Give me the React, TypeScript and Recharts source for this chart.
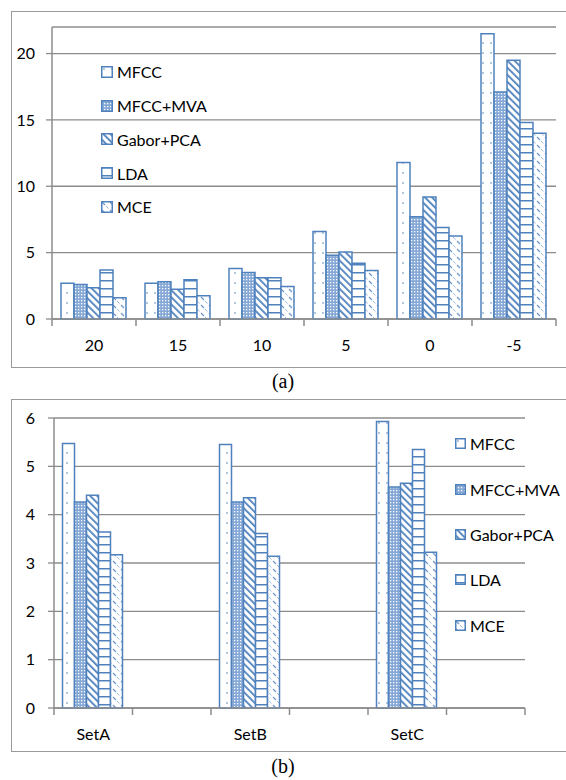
import { BarChart, Bar, XAxis, YAxis, CartesianGrid, Legend } from 'recharts';

// (a) error rate by SNR
const snrLabels = ['20', '15', '10', '5', '0', '-5'];
const snrMfcc = [2.7, 2.7, 3.8, 6.6, 11.8, 21.5];
const snrMva = [2.6, 2.8, 3.5, 4.8, 7.7, 17.1];
const snrGabor = [2.35, 2.25, 3.1, 5.05, 9.2, 19.5];
const snrLda = [3.7, 2.95, 3.1, 4.2, 6.9, 14.8];
const snrMce = [1.6, 1.75, 2.45, 3.65, 6.25, 14.0];
const snrTicks = [0, 5, 10, 15, 20];

// (b) error rate by test set (blank slots keep the Excel spacing)
const setLabels = ['SetA', '', 'SetB', '', 'SetC', ''];
const setMfcc = [5.47, null, 5.45, null, 5.93, null];
const setMva = [4.26, null, 4.26, null, 4.57, null];
const setGabor = [4.4, null, 4.35, null, 4.65, null];
const setLda = [3.64, null, 3.61, null, 5.35, null];
const setMce = [3.17, null, 3.14, null, 3.22, null];
const setTicks = [0, 1, 2, 3, 4, 5, 6];

const seriesKeys = ['mfcc', 'mva', 'gabor', 'lda', 'mce'];
const seriesNames = ['MFCC', 'MFCC+MVA', 'Gabor+PCA', 'LDA', 'MCE'];

const BLUE = '#4F81BD';
const GRID = '#8c8c8c';
const FONT = 'Lato, "Open Sans", sans-serif';

function buildRows(labels: string[], cols: (number | null)[][]) {
  return labels.map((label, i) => {
    const row: Record<string, any> = { label };
    seriesKeys.forEach((k, j) => {
      row[k] = cols[j][i];
    });
    return row;
  });
}

const snrData = buildRows(snrLabels, [snrMfcc, snrMva, snrGabor, snrLda, snrMce]);
const setData = buildRows(setLabels, [setMfcc, setMva, setGabor, setLda, setMce]);

function renderPatterns(prefix: string) {
  return (
    <defs>
      <pattern id={`${prefix}-mfcc`} patternUnits="userSpaceOnUse" width={8} height={10}>
        <rect width={8} height={10} fill="#fff" />
        <circle cx={3} cy={3} r={0.8} fill={BLUE} />
      </pattern>
      <pattern id={`${prefix}-mva`} patternUnits="userSpaceOnUse" width={3} height={3}>
        <rect width={3} height={3} fill="#86a8d6" />
        <rect x={0} y={0} width={1.3} height={1.3} fill="#fff" />
      </pattern>
      <pattern id={`${prefix}-gabor`} patternUnits="userSpaceOnUse" width={5} height={5} patternTransform="rotate(-45)">
        <rect width={5} height={5} fill="#fff" />
        <rect x={0} y={0} width={1.8} height={5} fill={BLUE} />
      </pattern>
      <pattern id={`${prefix}-lda`} patternUnits="userSpaceOnUse" width={8} height={8}>
        <rect width={8} height={8} fill="#fff" />
        <rect x={0} y={0} width={8} height={1.5} fill={BLUE} />
      </pattern>
      <pattern id={`${prefix}-mce`} patternUnits="userSpaceOnUse" width={8} height={8}>
        <rect width={8} height={8} fill="#fff" />
        <line x1={1} y1={1} x2={4} y2={4} stroke="#6f98cc" strokeWidth={1.2} />
        <line x1={5} y1={5} x2={7.5} y2={7.5} stroke="#9db8dc" strokeWidth={1} />
      </pattern>
    </defs>
  );
}

function makeEdgeTick(count: number, band: number) {
  return (props: any) => {
    const { x, y, payload, index } = props;
    const half = band / 2;
    return (
      <g>
        <line x1={x - half} x2={x - half} y1={y} y2={y + 7} stroke={GRID} strokeWidth={1.5} />
        {index === count - 1 && (
          <line x1={x + half} x2={x + half} y1={y} y2={y + 7} stroke={GRID} strokeWidth={1.5} />
        )}
        <text x={x} y={y + 26} dy="0.355em" textAnchor="middle" fontSize={16} fontFamily={FONT} fill="#000">
          {payload.value}
        </text>
      </g>
    );
  };
}

// legend rows follow the series order, not recharts' sorted payload
function makeLegend(prefix: string, rowH: number, icon: number, gap: number) {
  return () => (
    <div style={{ fontFamily: FONT, fontSize: 16, color: '#000' }}>
      {seriesKeys.map((k, i) => (
        <div key={k} style={{ height: rowH, display: 'flex', alignItems: 'center' }}>
          <svg width={icon} height={icon} style={{ marginRight: gap, flex: 'none' }}>
            <rect
              x={0.75}
              y={0.75}
              width={icon - 1.5}
              height={icon - 1.5}
              fill={`url(#${prefix}-${k})`}
              stroke={BLUE}
              strokeWidth={1.5}
            />
          </svg>
          <span style={{ whiteSpace: 'nowrap' }}>{seriesNames[i]}</span>
        </div>
      ))}
    </div>
  );
}

function renderBars(prefix: string) {
  return seriesKeys.map((k, i) => (
    <Bar
      key={k}
      dataKey={k}
      name={seriesNames[i]}
      fill={`url(#${prefix}-${k})`}
      stroke={BLUE}
      strokeWidth={1.5}
      isAnimationActive={false}
    />
  ));
}

const boxStyle = (left: number, top: number, height: number): React.CSSProperties => ({
  position: 'absolute',
  left,
  top,
  width: 620,
  height,
  borderLeft: '1.5px solid #9a9a9a',
  borderTop: '1.5px solid #9a9a9a',
  borderBottom: '1.5px solid #9a9a9a',
  boxSizing: 'border-box',
});

const captionStyle = (top: number): React.CSSProperties => ({
  position: 'absolute',
  left: 0,
  top,
  width: 566,
  textAlign: 'center',
  fontFamily: '"Liberation Serif", "Times New Roman", serif',
  fontSize: 20,
  lineHeight: '24px',
});

export default function App() {
  return (
    <div style={{ position: 'absolute', left: 0, top: 0, width: 566, height: 780, background: '#fff', overflow: 'hidden' }}>
      <div style={boxStyle(11, 11, 357)} />
      <div style={boxStyle(11, 399, 353)} />

      <div style={{ position: 'absolute', left: 0, top: 0 }}>
        <BarChart
          width={566}
          height={367}
          data={snrData}
          margin={{ top: 27, right: 10, bottom: 8, left: 0 }}
          barCategoryGap={9}
          barGap={0}
        >
          {renderPatterns('pa')}
          <CartesianGrid vertical={false} stroke={GRID} strokeWidth={1.3} />
          <XAxis
            dataKey="label"
            height={40}
            interval={0}
            axisLine={{ stroke: GRID, strokeWidth: 1.5 }}
            tickLine={false}
            tickSize={0}
            tickMargin={0}
            tick={makeEdgeTick(snrLabels.length, 84)}
          />
          <YAxis
            width={52}
            domain={[0, 22]}
            ticks={snrTicks}
            axisLine={{ stroke: GRID, strokeWidth: 1.5 }}
            tickLine={{ stroke: GRID, strokeWidth: 1.3 }}
            tickSize={6}
            tickMargin={11}
            tick={{ fontSize: 16, fill: '#000', fontFamily: FONT }}
          />
          <Legend
            layout="vertical"
            align="center"
            verticalAlign="middle"
            wrapperStyle={{ left: 101, top: 55, width: 160 }}
            content={makeLegend('pa', 33.75, 12, 4)}
          />
          {renderBars('pa')}
        </BarChart>
      </div>
      <div style={captionStyle(369)}>(a)</div>

      <div style={{ position: 'absolute', left: 0, top: 400 }}>
        <BarChart
          width={566}
          height={351}
          data={setData}
          margin={{ top: 18, right: 41, bottom: 3, left: 0 }}
          barCategoryGap={8.5}
          barGap={0}
        >
          {renderPatterns('pb')}
          <CartesianGrid vertical={false} stroke={GRID} strokeWidth={1.3} />
          <XAxis
            dataKey="label"
            height={40}
            interval={0}
            axisLine={{ stroke: GRID, strokeWidth: 1.5 }}
            tickLine={false}
            tickSize={0}
            tickMargin={0}
            tick={makeEdgeTick(setLabels.length, 78.5)}
          />
          <YAxis
            width={54}
            domain={[0, 6]}
            ticks={setTicks}
            axisLine={{ stroke: GRID, strokeWidth: 1.5 }}
            tickLine={{ stroke: GRID, strokeWidth: 1.3 }}
            tickSize={6}
            tickMargin={13}
            tick={{ fontSize: 16, fill: '#000', fontFamily: FONT }}
          />
          <Legend
            layout="vertical"
            align="center"
            verticalAlign="middle"
            wrapperStyle={{ left: 455, top: 21, width: 110 }}
            content={makeLegend('pb', 45.4, 11, 4)}
          />
          {renderBars('pb')}
        </BarChart>
      </div>
      <div style={captionStyle(754)}>(b)</div>
    </div>
  );
}
